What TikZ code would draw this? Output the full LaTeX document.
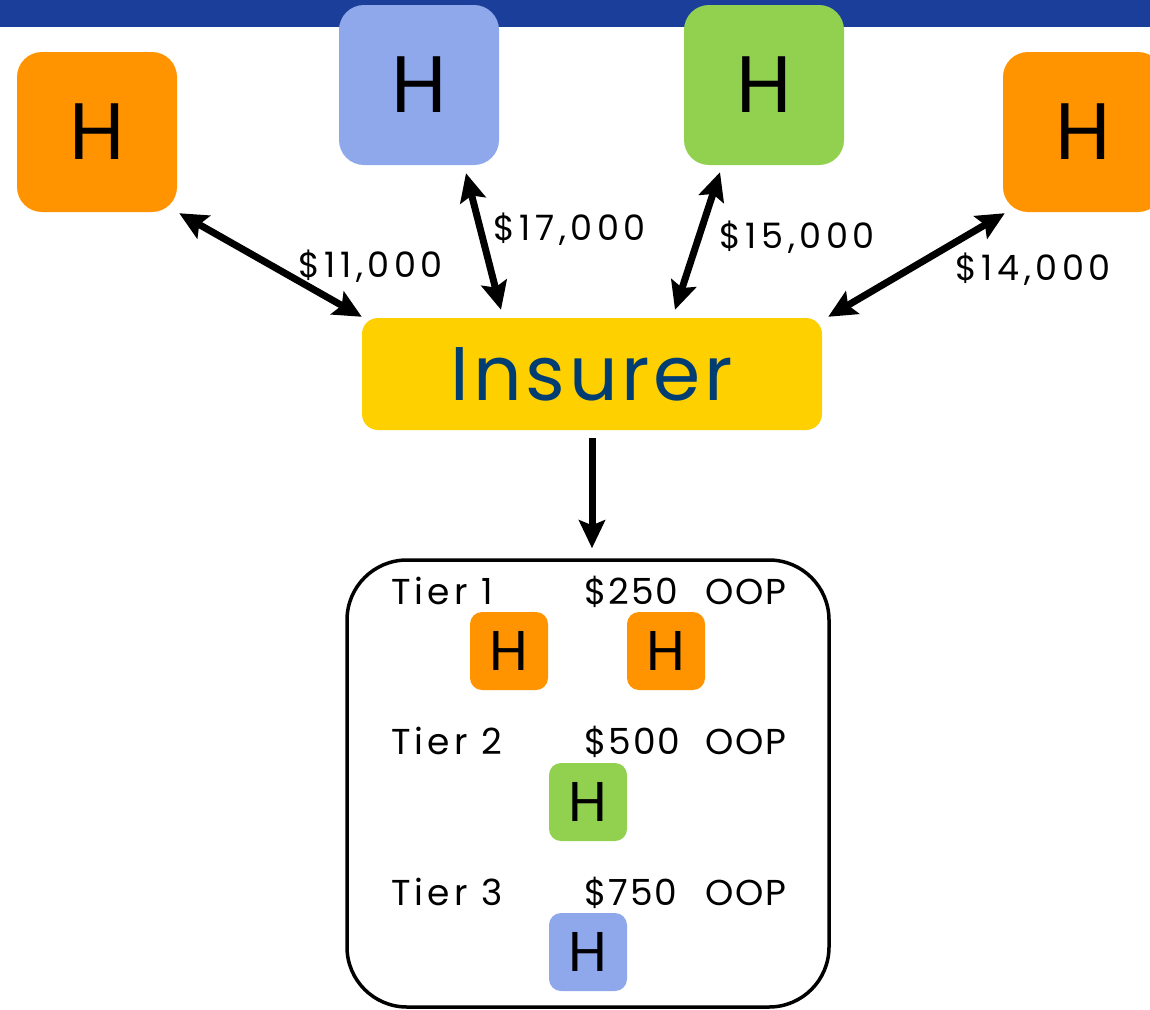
\documentclass[tikz,border=0pt]{standalone}
\usepackage{fontspec}
\setmainfont{Poppins}[Numbers=Monospaced]
\usetikzlibrary{arrows.meta,positioning,calc}
\definecolor{bannercolor}{RGB}{28, 62, 155}
\definecolor{orangecolor}{RGB}{255, 148, 0}
\definecolor{bluecolor}{RGB}{142, 168, 235}
\definecolor{greencolor}{RGB}{146, 208, 80}
\definecolor{insurercolor}{RGB}{255, 208, 0}
\definecolor{insurertext}{RGB}{0, 61, 115}

\begin{document}
\begin{tikzpicture}[x=1pt, y=-1pt,
                hosp/.style={rectangle, rounded corners=25pt, minimum size=160pt, inner sep=0pt, font=\fontsize{80}{80}\selectfont},
                smallhosp/.style={rectangle, rounded corners=12pt, minimum size=78pt, inner sep=0pt, font=\fontsize{56}{56}\selectfont},
                insurer/.style={rectangle, rounded corners=16pt, fill=insurercolor, minimum width=460pt, minimum height=112pt, text=insurertext, font=\fontsize{76}{76}\selectfont\addfontfeature{LetterSpace=5}},
                price/.style={anchor=base west, font=\fontsize{35}{35}\selectfont\addfontfeature{LetterSpace=13}},
                tier/.style={anchor=base west, font=\fontsize{36}{36}\selectfont\addfontfeature{LetterSpace=5}},
                tiername/.style={tier, font=\fontsize{36}{36}\selectfont\addfontfeature{LetterSpace=11}},
                dbl/.style={{Stealth[length=28pt, width=26pt, inset=5pt]}-{Stealth[length=28pt, width=26pt, inset=5pt]}, line width=7pt},
                arrow/.style={-{Stealth[length=28pt, width=26pt, inset=5pt]}, line width=7pt}]

                \useasboundingbox (0,0) rectangle (1150,1009);
                \fill[white] (0,0) rectangle (1150,1009);

                % Banner
                \fill[bannercolor] (0,0) rectangle (1150,27);

                % Hospitals
                \node[hosp, fill=orangecolor] (hL) at (97,132) {H};
                \node[hosp, fill=bluecolor] (hB) at (419,85) {H};
                \node[hosp, fill=greencolor] (hG) at (764,85) {H};
                \node[hosp, fill=orangecolor] (hR) at (1083,132) {H};

                % Insurer
                \node[insurer] (ins) at (592,374) {Insurer};

                % Payments
                \draw[dbl] ($(hL.south east)+(2,1)$) -- ($(ins.north west)+(0,-1)$);
                \draw[dbl] ($(hB.south)+(47,8)$) -- ($(ins.north)+(-91,-8)$);
                \draw[dbl] ($(hG.south)+(-44,7)$) -- ($(ins.north)+(83,-8)$);
                \draw[dbl] ($(hR.south west)+(2,1)$) -- ($(ins.north east)+(6,-1)$);

                \node[price] (p11) at (295,277) {\$11,000};
                \node[price] (p17) at (490,240) {\$17,000};
                \node[price] (p15) at (716,248) {\$15,000};
                \node[price] (p14) at (952,280) {\$14,000};

                % Tiers
                \node[draw, line width=3.5pt, rounded corners=60pt, minimum width=482pt, minimum height=447pt] (tiers) at (588,783.5) {};
                \draw[arrow] ($(ins.south)+(0,8)$) -- ($(ins.south |- tiers.north)+(0,-10)$);

                \node[tiername] (t1) at (388,604) {Tier 1};
                \node[tier] (c1) at (581,604) {\$250};
                \node[tier] (o1) at (702,604) {OOP};
                \node[smallhosp, fill=orangecolor] (s1) at (509,651) {H};
                \node[smallhosp, fill=orangecolor] (s2) at (666,651) {H};

                \node[tiername] (t2) at (388,754) {Tier 2};
                \node[tier] (c2) at (581,754) {\$500};
                \node[tier] (o2) at (702,754) {OOP};
                \node[smallhosp, fill=greencolor] (s3) at (588,802) {H};

                \node[tiername] (t3) at (388,905) {Tier 3};
                \node[tier] (c3) at (581,905) {\$750};
                \node[tier] (o3) at (702,905) {OOP};
                \node[smallhosp, fill=bluecolor] (s4) at (588,952) {H};

            \end{tikzpicture}
\end{document}
